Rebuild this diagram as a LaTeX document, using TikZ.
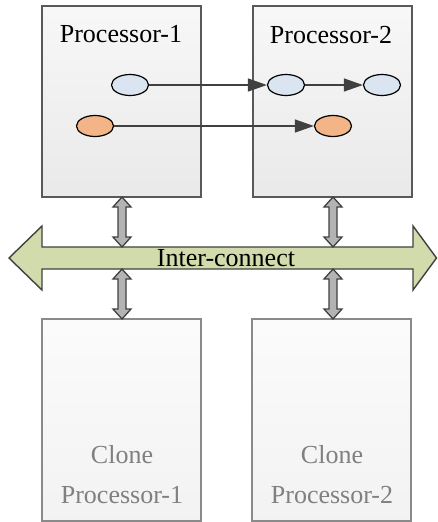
\documentclass[tikz,border=0pt]{standalone}
\usepackage{fontspec}
\setmainfont{Liberation Serif}
\usetikzlibrary{arrows.meta,shapes.geometric}
\definecolor{boxline}{HTML}{595959}
\definecolor{cloneline}{HTML}{8A8A8A}
\definecolor{clonetext}{HTML}{808080}
\definecolor{bluefill}{HTML}{DAE5F1}
\definecolor{orangefill}{HTML}{F3B487}
\definecolor{busfill}{HTML}{D2DBAC}
\definecolor{linkfill}{HTML}{B3B3B3}
\definecolor{darkline}{HTML}{404040}
\tikzset{
  procbox/.style={draw=boxline, line width=1.6pt, top color=gray!6, bottom color=gray!17,
    minimum width=159pt, minimum height=191pt, inner sep=0pt},
  clonebox/.style={draw=cloneline, line width=1.4pt, top color=gray!3, bottom color=gray!10,
    minimum width=159pt, minimum height=202pt, inner sep=0pt},
  label/.style={font=\fontsize{26}{30}\selectfont, inner sep=0pt},
  clonelabel/.style={font=\fontsize{26}{40}\selectfont, text=clonetext, align=center, inner sep=0pt},
  token/.style={ellipse, draw=black, line width=1.2pt, minimum width=37pt, minimum height=21pt, inner sep=0pt},
  bluetok/.style={token, fill=bluefill},
  orangetok/.style={token, fill=orangefill},
  flow/.style={draw=darkline, line width=1.2pt, -{Triangle[length=19pt,width=13pt]}},
  bus/.style={draw=darkline, line width=1.4pt, fill=busfill, line join=miter},
  link/.style={draw=darkline, line width=1.3pt, fill=linkfill, line join=miter},
}
% vertical double arrow between two heights: x, top y, bottom y
\newcommand{\vlink}[3]{%
  \path[link] (#1,#2) -- (#1+9,#2+10) -- (#1+4,#2+10) -- (#1+4,#3-10) -- (#1+9,#3-10)
    -- (#1,#3) -- (#1-9,#3-10) -- (#1-4,#3-10) -- (#1-4,#2+10) -- (#1-9,#2+10) -- cycle;}
\begin{document}
\begin{tikzpicture}[x=1pt, y=-1pt]
\useasboundingbox (0,0) rectangle (438,522);

% processors
\node[procbox] (p1) at (121.5,101.5) {};
\node[procbox] (p2) at (332.5,101.5) {};
\node[label, anchor=base] (p1t) at (121,42) {Processor-1};
\node[label, anchor=base] (p2t) at (331,43) {Processor-2};

% clone processors
\node[clonebox] (c1) at (121.5,420) {};
\node[clonebox] (c2) at (331.5,420) {};
\node[clonelabel] (c1t) at (122,475) {Clone\\Processor-1};
\node[clonelabel] (c2t) at (332,475) {Clone\\Processor-2};

% tokens
\node[bluetok] (e1) at (130,85) {};
\node[bluetok] (e2) at (286,85) {};
\node[bluetok] (e3) at (382,85) {};
\node[orangetok] (o1) at (95,126) {};
\node[orangetok] (o2) at (333,126) {};
\draw[flow] (e1) -- (e2);
\draw[flow] (e2) -- (e3);
\draw[flow] (o1) -- (o2);

% interconnect bus
\path[bus] (9,258) -- (42,226) -- (42,247) -- (413,247) -- (413,226) -- (436.5,258)
  -- (413,290) -- (413,269) -- (42,269) -- (42,290) -- cycle;
\node[label] (bus) at (226,258) {Inter-connect};

% links to the bus
\vlink{122}{197}{247}
\vlink{333}{197}{247}
\vlink{122}{269}{319}
\vlink{333}{269}{319}
\end{tikzpicture}
\end{document}
